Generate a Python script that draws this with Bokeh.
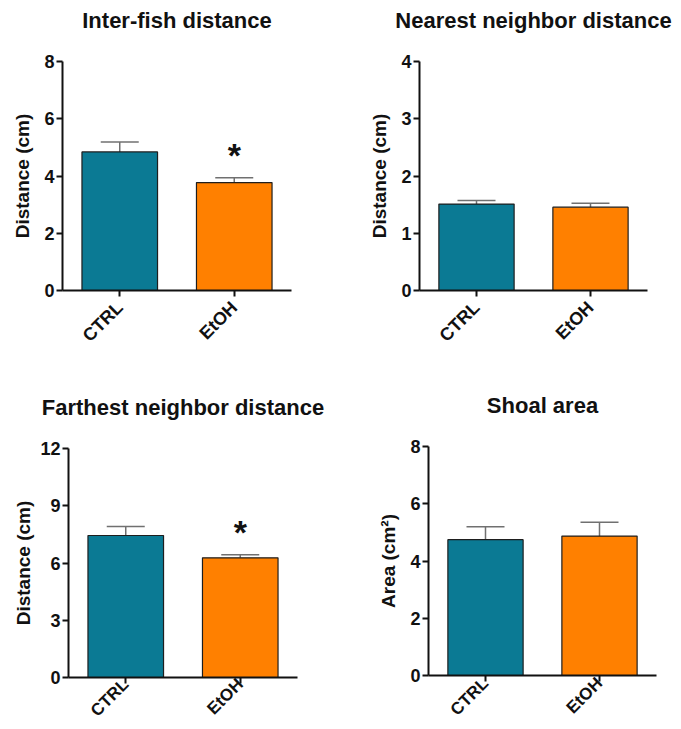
from math import pi
from bokeh.plotting import figure
from bokeh.layouts import column, row
from bokeh.models import FactorRange, Range1d, FixedTicker, Whisker, TeeHead, ColumnDataSource
from bokeh.core.properties import value
from bokeh.embed import file_html
from bokeh.resources import INLINE

# ---------------- data ----------------
groups = ["CTRL", "EtOH"]
titles = ["Inter-fish distance", "Nearest neighbor distance",
          "Farthest neighbor distance", "Shoal area"]
y_labels = ["Distance (cm)", "Distance (cm)", "Distance (cm)", "Area (cm\u00b2)"]

inter_mean = [4.84, 3.77]
inter_sem = [0.35, 0.17]
nearest_mean = [1.51, 1.455]
nearest_sem = [0.06, 0.07]
farthest_mean = [7.44, 6.27]
farthest_sem = [0.47, 0.16]
shoal_mean = [4.745, 4.87]
shoal_sem = [0.45, 0.48]

y_max = [8, 4, 12, 8]
y_step = [2, 1, 3, 2]
signif = [["", "*"], ["", ""], ["", "*"], ["", ""]]

means = [inter_mean, nearest_mean, farthest_mean, shoal_mean]
sems = [inter_sem, nearest_sem, farthest_sem, shoal_sem]

bar_colors = ["#0B7A94", "#FF8000"]
FONT = "Liberation Sans"

# layout geometry (pixels): width, height, borders (l, r, t, b), y-label standoff,
# x-label font size, x-label standoff
geom = [
    (340, 370, 62, 49, 61, 80, 8, "18px", 8),
    (341, 370, 79, 34, 61, 80, 8, "18px", 8),
    (340, 359, 68, 43, 78, 52, 3, "17px", -2),
    (341, 359, 88, 25, 76, 54, 8, "17px", -1),
]


def make_panel(i):
    w, h, bl, br, bt, bb, lab_standoff, xfs, xso = geom[i]
    p = figure(width=w, height=h, x_range=FactorRange(*groups),
               y_range=Range1d(0, y_max[i]), output_backend="svg",
               toolbar_location=None, min_border_left=bl, min_border_right=br,
               min_border_top=bt, min_border_bottom=bb)
    p.outline_line_color = None
    p.grid.visible = False
    p.background_fill_color = "white"
    p.border_fill_color = "white"

    p.title.text = titles[i]
    p.title.align = "center"
    p.title.text_font = FONT
    p.title.text_font_style = "bold"
    p.title.text_font_size = "22px"
    p.title.text_color = "#111111"
    p.title.standoff = 6
    p.title.padding = dict(left=0, right=0, top=0, bottom=26)

    mean = means[i]
    sem = sems[i]
    src = ColumnDataSource(dict(
        x=groups, top=mean, upper=[m + s for m, s in zip(mean, sem)],
        color=bar_colors, sig=signif[i]))

    p.vbar(x="x", top="top", width=0.66, source=src, fill_color="color",
           line_color="#1E1E1E", line_width=1.2)

    wk = Whisker(source=src, base="x", lower="top", upper="upper",
                 line_color="#707070", line_width=1.5,
                 upper_head=TeeHead(size=38, line_color="#707070", line_width=1.5),
                 lower_head=None, level="underlay")
    p.add_layout(wk)

    p.text(x="x", y="upper", text="sig", source=src, text_align="center",
           text_baseline="alphabetic", y_offset=-23, text_font=value(FONT),
           text_font_style="bold", text_font_size="34px", text_color="#111111")

    # axes
    for ax in (p.xaxis[0], p.yaxis[0]):
        ax.axis_line_width = 2
        ax.axis_line_color = "#111111"
        ax.major_tick_line_width = 2
        ax.major_tick_line_color = "#111111"
        ax.major_tick_in = 0
        ax.major_tick_out = 6
        ax.minor_tick_line_color = None
        ax.major_label_text_font = FONT
        ax.major_label_text_font_style = "bold"
        ax.major_label_text_font_size = "18px"
        ax.major_label_text_color = "#111111"

    p.yaxis.ticker = FixedTicker(ticks=list(range(0, y_max[i] + 1, y_step[i])))
    p.yaxis.major_label_standoff = 2
    p.yaxis.axis_label = y_labels[i]
    p.yaxis.axis_label_text_font = FONT
    p.yaxis.axis_label_text_font_style = "bold"
    p.yaxis.axis_label_text_font_size = "19px"
    p.yaxis.axis_label_text_color = "#111111"
    p.yaxis.axis_label_standoff = lab_standoff

    p.xaxis.major_label_orientation = pi / 4
    p.xaxis.major_label_text_font_size = xfs
    p.xaxis.major_label_standoff = xso
    p.x_range.range_padding = 0
    return p


panels = [make_panel(i) for i in range(4)]
layout = column(row(column(panels[0]), column(panels[1])),
                row(column(panels[2]), column(panels[3])))

open("out.html", "w").write(file_html(layout, INLINE))
